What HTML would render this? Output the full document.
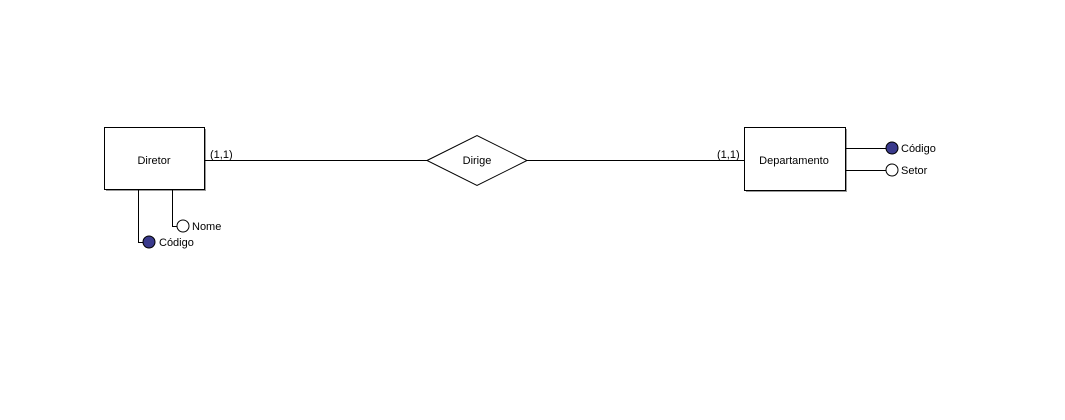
<!DOCTYPE html>
<html><head><meta charset="utf-8"><style>
body{margin:0;background:#fff;width:1065px;height:415px;overflow:hidden}
text{font-family:"Liberation Sans","DejaVu Sans",sans-serif;font-size:11px;fill:#000}
</style></head><body>
<svg width="1065" height="415">
<g>
<rect x="106" y="129" width="100" height="62" fill="#999"/>
<rect x="104.5" y="127.5" width="100" height="62" fill="#fff" stroke="#000"/>
<text x="154" y="164" text-anchor="middle">Diretor</text>
</g>
<g>
<rect x="746" y="129" width="101" height="63" fill="#999"/>
<rect x="744.5" y="127.5" width="101" height="63" fill="#fff" stroke="#000"/>
<text x="794" y="164" text-anchor="middle">Departamento</text>
</g>
<line x1="205" y1="160.5" x2="427" y2="160.5" stroke="#000"/>
<line x1="527" y1="160.5" x2="744" y2="160.5" stroke="#000"/>
<g>
<polygon points="427,160.5 477,135.5 527,160.5 477,185.5" fill="#fff" stroke="#000"/>
<text x="477" y="164" text-anchor="middle">Dirige</text>
</g>
<text x="210" y="158">(1,1)</text>
<text x="717" y="158">(1,1)</text>
<g>
<polyline points="138.5,190 138.5,242.5 143,242.5" fill="none" stroke="#000"/>
<circle cx="149" cy="242" r="6" fill="#3a3a8c" stroke="#000"/>
<text x="159" y="246">Código</text>
</g>
<g>
<polyline points="172.5,190 172.5,226.5 177,226.5" fill="none" stroke="#000"/>
<circle cx="183" cy="226" r="6" fill="#fff" stroke="#000"/>
<text x="192" y="230">Nome</text>
</g>
<g>
<line x1="846" y1="148.5" x2="886" y2="148.5" stroke="#000"/>
<circle cx="892" cy="148" r="6" fill="#3a3a8c" stroke="#000"/>
<text x="901" y="152">Código</text>
</g>
<g>
<line x1="846" y1="170.5" x2="886" y2="170.5" stroke="#000"/>
<circle cx="892" cy="170" r="6" fill="#fff" stroke="#000"/>
<text x="901" y="174">Setor</text>
</g>
</svg>
</body></html>
